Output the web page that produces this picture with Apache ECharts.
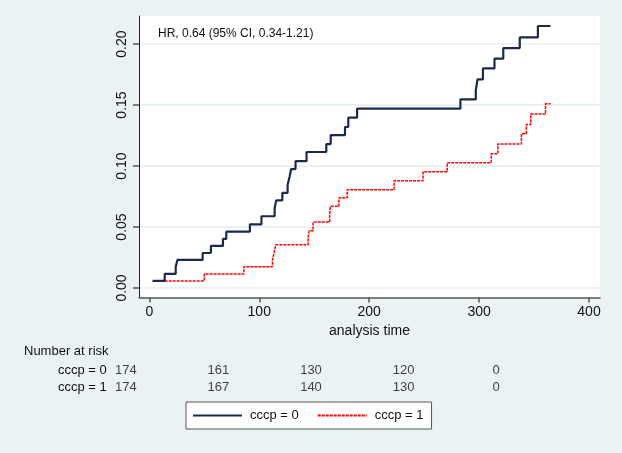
<!DOCTYPE html>
<html><head><meta charset="utf-8">
<script src="https://cdn.jsdelivr.net/npm/echarts@6/dist/echarts.min.js"></script>
<style>html,body{margin:0;padding:0;background:#eaf2f3}#c{width:622px;height:453px}</style>
</head><body><div id="c"></div>
<script>
// Cumulative incidence, group cccp = 0 : [time, value]
const timesG0 = [3,14,24,25.5,48.5,56,67,70,91.5,102,114,115.5,121,125.8,127.6,129,133,143,161,165,178,181,189,283,297,298.5,303.5,314,322,337,353.5,365];
const valuesG0 = [0.0058,0.0115,0.0172,0.0230,0.0287,0.0345,0.0402,0.0462,0.0522,0.0588,0.0655,0.0719,0.0780,0.0844,0.0913,0.0975,0.1040,0.1115,0.1180,0.1254,0.1320,0.1396,0.1470,0.1546,0.1620,0.1710,0.1800,0.1880,0.1967,0.2055,0.2148,0.2148];
// group cccp = 1
const timesG1 = [3,50,86,112,113.5,115,144.5,145.5,149,164,164.8,172.5,180,222.7,249,271,311,317,338.5,343,347,360.4,365];
const valuesG1 = [0.0058,0.0115,0.0175,0.0232,0.0290,0.0355,0.0415,0.0470,0.0540,0.0605,0.0670,0.0740,0.0806,0.0880,0.0953,0.1027,0.1100,0.1180,0.1265,0.1340,0.1426,0.1510,0.1510];
const groupNames = ['cccp = 0','cccp = 1'];
const xTicks = [0,100,200,300,400];
const yTicks = [0,0.05,0.10,0.15,0.20];
const riskTimes = [0,100,200,300,400];
const atRiskG0 = [174,161,130,120,0];
const atRiskG1 = [174,167,140,130,0];
const annotation = 'HR, 0.64 (95% CI, 0.34-1.21)';
const xTitle = 'analysis time';
const riskTitle = 'Number at risk';

const FONT = '"Liberation Sans", Arial, sans-serif';
const pair = (ts, vs) => ts.map((t, i) => [t, vs[i]]);
const riskData = [];
riskTimes.forEach((t, i) => {
  riskData.push([t, groupNames[0], atRiskG0[i]]);
  riskData.push([t, groupNames[1], atRiskG1[i]]);
});

const chart = echarts.init(document.getElementById('c'), null, {renderer: 'canvas'});
chart.setOption({
  backgroundColor: '#eaf2f3',
  animation: false,
  textStyle: {fontFamily: FONT},
  title: [
    {text: annotation, left: 158, top: 28, padding: 0,
     textStyle: {fontFamily: FONT, fontSize: 12, fontWeight: 'normal', color: '#111'}},
    {text: riskTitle, left: 24, top: 345, padding: 0,
     textStyle: {fontFamily: FONT, fontSize: 13, fontWeight: 'normal', color: '#111'}}
  ],
  grid: [
    {left: 139, top: 16, right: 22, bottom: 155.5, show: true, backgroundColor: '#ffffff', borderWidth: 0, outerBoundsMode: 'none'},
    {left: 125.8, right: 125.8, top: 362.2, height: 34, show: false, outerBoundsMode: 'none'}
  ],
  xAxis: [
    {type: 'value', gridIndex: 0, min: -9.4, max: 410,
     name: xTitle, nameLocation: 'middle', nameGap: 27,
     nameTextStyle: {fontFamily: FONT, fontSize: 14, color: '#111'},
     axisLine: {show: true, onZero: false, lineStyle: {color: '#555', width: 1.5}},
     axisTick: {show: true, length: 5, customValues: xTicks, lineStyle: {color: '#555', width: 1.5}},
     axisLabel: {customValues: xTicks, fontFamily: FONT, fontSize: 14, color: '#111', margin: 8},
     splitLine: {show: false}},
    {type: 'value', gridIndex: 1, min: 0, max: 400, show: false}
  ],
  yAxis: [
    {type: 'value', gridIndex: 0, min: -0.0078, max: 0.223,
     axisLine: {show: true, onZero: false, lineStyle: {color: '#222', width: 1}},
     axisTick: {show: true, length: 6, customValues: yTicks, lineStyle: {color: '#555', width: 1.5}},
     axisLabel: {customValues: yTicks, rotate: 90, margin: 10, fontFamily: FONT, fontSize: 14, color: '#111',
                 formatter: v => v.toFixed(2)},
     splitLine: {show: true, lineStyle: {color: '#e4eef0', width: 1.5}}},
    {type: 'category', gridIndex: 1, data: groupNames, inverse: true,
     axisLine: {show: false}, axisTick: {show: false},
     axisLabel: {margin: 19, fontFamily: FONT, fontSize: 13, color: '#111'}}
  ],
  legend: {
    data: groupNames, left: 186, top: 402, orient: 'horizontal',
    padding: [7, 8, 7, 6], itemGap: 18, itemWidth: 49, itemHeight: 14,
    backgroundColor: '#ffffff', borderColor: '#555', borderWidth: 1, borderRadius: 0,
    itemStyle: {opacity: 0},
    textStyle: {fontFamily: FONT, fontSize: 13, color: '#111', padding: [0, 0, 0, 3]}
  },
  series: [
    {name: groupNames[0], type: 'line', step: 'end', xAxisIndex: 0, yAxisIndex: 0,
     data: pair(timesG0, valuesG0), symbol: 'none', showSymbol: false,
     lineStyle: {color: '#1b2a4c', width: 2.2}, itemStyle: {color: '#1b2a4c'}, z: 3},
    {name: groupNames[1], type: 'line', step: 'end', xAxisIndex: 0, yAxisIndex: 0,
     data: pair(timesG1, valuesG1), symbol: 'none', showSymbol: false,
     lineStyle: {color: '#ff0000', width: 1.5, type: [3, 1]}, itemStyle: {color: '#ff0000'}, z: 2},
    {type: 'scatter', xAxisIndex: 1, yAxisIndex: 1, data: riskData, symbolSize: 1,
     itemStyle: {color: 'rgba(0,0,0,0)'}, silent: true,
     label: {show: true, position: 'inside', formatter: p => String(p.value[2]),
             fontFamily: FONT, fontSize: 13, color: '#111'}}
  ]
});
</script></body></html>
